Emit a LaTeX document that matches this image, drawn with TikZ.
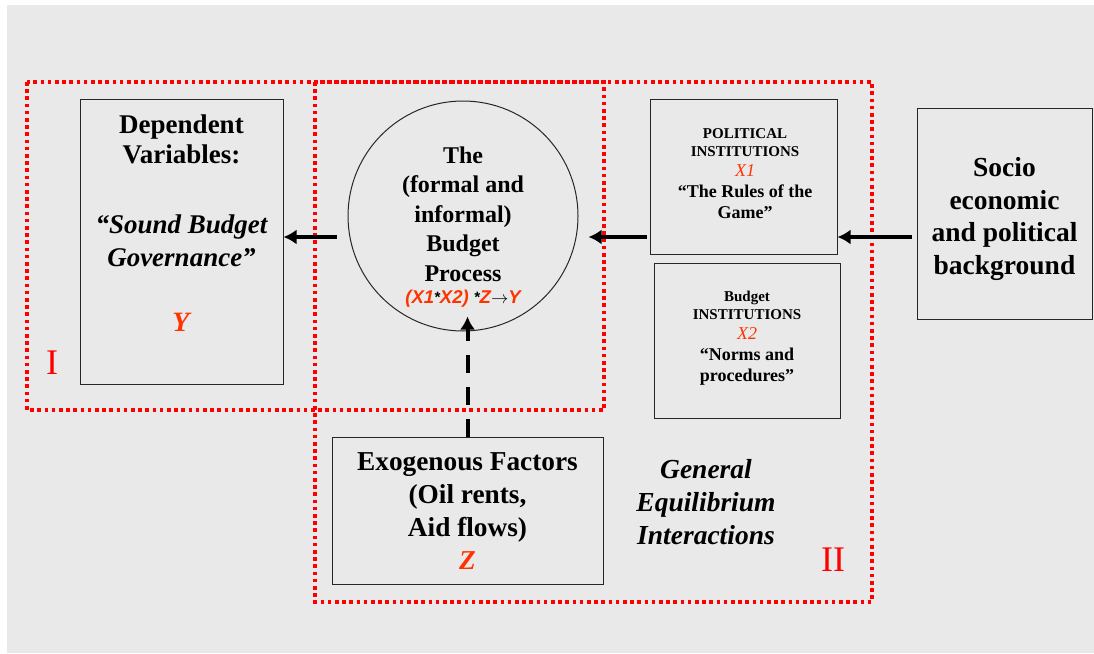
\documentclass[tikz,border=0pt]{standalone}
\usepackage{fontspec}
\setmainfont{Liberation Serif}
\newfontfamily\arialfont{Liberation Sans}
\usetikzlibrary{arrows.meta,positioning}
\definecolor{panel}{HTML}{E9E9E9}
\definecolor{varred}{HTML}{FF3300}
\newcommand{\upstar}{\raisebox{1.5pt}{\fontsize{15}{16}\selectfont*}}
\tikzset{
  box/.style={draw=black!85, line width=1pt, inner sep=0pt},
  region/.style={draw=red, line width=3.6pt, dash pattern=on 3.6pt off 3.6pt},
  flow/.style={line width=4pt, -{Latex[length=13pt,width=15pt]}},
  bigtext/.style={align=center, font=\bfseries\fontsize{27}{30}\selectfont},
  roman/.style={text=red, font=\fontsize{36}{40}\selectfont},
}

\begin{document}
\begin{tikzpicture}[x=1pt,y=-1pt]
    % page and grey panel.
    \useasboundingbox (0,0) rectangle (1094,653);
    \fill[panel] (7,5) rectangle (1094,653);
    % the two dotted regions.
    \draw[region] (27,82) rectangle (604,410);
    \draw[region] (315,82) rectangle (872,602);
    \node[roman] (regionI) at (52,363) {I};
    \node[roman] (regionII) at (833,560) {II};
    % boxes and the budget process.
    \node[box, minimum width=203pt, minimum height=285pt] (dep) at (181.5,241.5) {};
    \node[box, circle, minimum size=230pt] (bp) at (463,216) {};
    \node[box, minimum width=187pt, minimum height=155pt] (polit) at (743.5,176.5) {};
    \node[box, minimum width=186pt, minimum height=155pt] (budg) at (747,340.5) {};
    \node[box, minimum width=175pt, minimum height=211pt] (socio) at (1004.5,213.5) {};
    \node[box, minimum width=271pt, minimum height=147pt] (exo) at (467.5,510.5) {};
    % texts.
    \node[bigtext] (dep title) at (181.5,139) {Dependent\\Variables:};
    \node[align=center, font=\bfseries\itshape\fontsize{27}{33.3}\selectfont]
        (dep quote) at (181.5,241) {``Sound Budget\\Governance''};
    \node[text=varred, font=\bfseries\itshape\fontsize{28}{30}\selectfont] (dep var) at (181,322) {Y};
    \node[align=center, font=\bfseries\fontsize{24}{29.5}\selectfont]
        (bp text) at (463,214) {The\\(formal and\\informal)\\Budget\\Process};
    \node[font=\arialfont\bfseries\itshape\fontsize{18.5}{20}\selectfont]
        (bp formula) at (463,299) {\textcolor{varred}{(X1}\upstar\textcolor{varred}{X2)} \upstar\textcolor{varred}{Z}$\rightarrow$\textcolor{varred}{Y}};
    \node[align=center, font=\bfseries\fontsize{18}{21}\selectfont] (polit text) at (745,174)
        {{\fontsize{15}{18}\selectfont POLITICAL}\\[-3pt]{\fontsize{15}{18}\selectfont INSTITUTIONS}\\[-1pt]
         {\mdseries\itshape\color{varred}X1}\\``The Rules of the\\Game''};
    \node[align=center, font=\bfseries\fontsize{18}{21}\selectfont] (budg text) at (747,338)
        {{\fontsize{15}{18}\selectfont Budget}\\[-3pt]{\fontsize{15}{18}\selectfont INSTITUTIONS}\\[-1pt]
         {\mdseries\itshape\color{varred}X2}\\``Norms and\\procedures''};
    \node[align=center, font=\bfseries\fontsize{27.5}{32.7}\selectfont]
        (socio text) at (1004.5,219) {Socio\\economic\\and political\\background};
    \node[align=center, font=\bfseries\fontsize{27.3}{33}\selectfont] (exo text) at (467.5,511)
        {Exogenous Factors\\(Oil rents,\\Aid flows)\\{\itshape\color{varred}Z}};
    \node[align=center, font=\bfseries\itshape\fontsize{27.5}{33}\selectfont]
        (gei) at (706,502) {General\\Equilibrium\\Interactions};
    % arrows, all on one row.
    \coordinate (row) at (0,237);
    \draw[flow] ([xshift=-5pt]socio.west |- row) -- (polit.east |- row);
    \draw[flow] ([xshift=-3pt]polit.west |- row) -- ([xshift=10pt]bp.east |- row);
    \draw[flow] ([xshift=-11pt]bp.west |- row) -- (dep.east |- row);
    \draw[flow, dash pattern=on 18pt off 14pt] (exo.north) -- ([yshift=15pt]exo.north |- bp.south);
\end{tikzpicture}
\end{document}
